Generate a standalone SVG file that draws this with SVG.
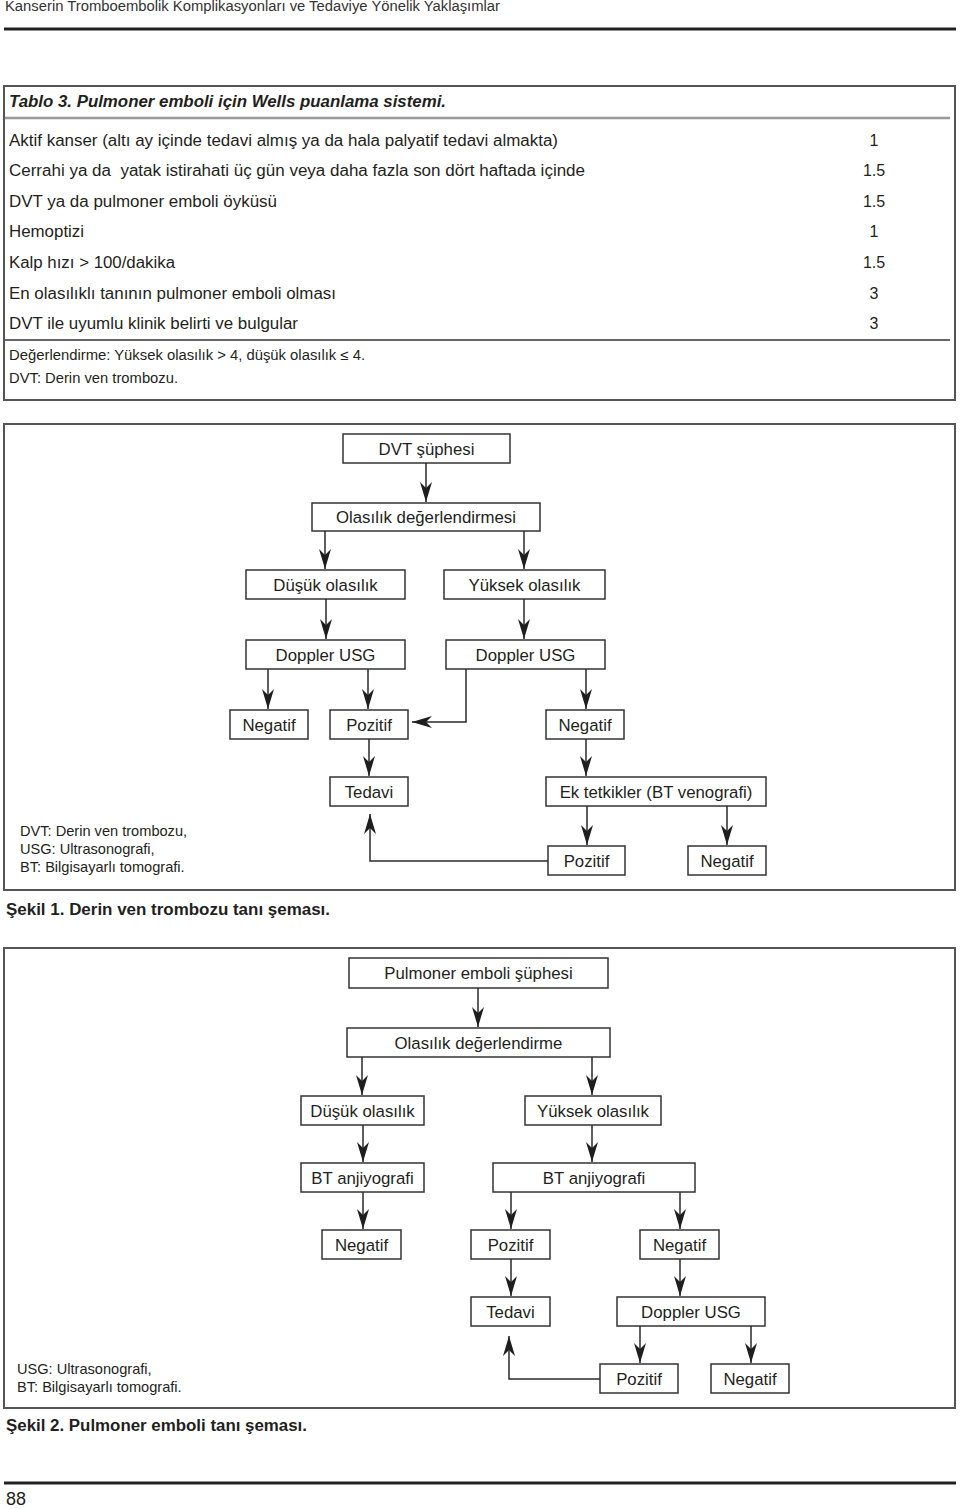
<svg xmlns="http://www.w3.org/2000/svg" width="960" height="1509" viewBox="0 0 960 1509">
<style>
text{font-family:"Liberation Sans",Arial,sans-serif;fill:#231f20}
.hdr{font-size:14px;fill:#333}
.ttl{font-size:16px;font-weight:bold;font-style:italic}
.row{font-size:16px}
.val{font-size:16px;text-anchor:middle}
.note{font-size:14px}
.cap{font-size:16px;font-weight:bold}
.leg{font-size:14.6px}
.nt{font-size:16.8px;text-anchor:middle}
.frame{fill:none;stroke:#555;stroke-width:2}
.box rect{fill:#fff;stroke:#333;stroke-width:1.5}
.con{fill:none;stroke:#2a2a2a;stroke-width:1.5}
</style>
<defs>
<marker id="ah" viewBox="0 0 20 12" refX="20" refY="6" markerWidth="20" markerHeight="12" markerUnits="userSpaceOnUse" orient="auto">
<path d="M0,0 L20,6 L0,12 L6,6 Z" fill="#1e1e1e"/>
</marker>
</defs>
<rect width="960" height="1509" fill="#fff"/>

<!-- page header -->
<text class="hdr" x="5" y="11" textLength="495" lengthAdjust="spacingAndGlyphs">Kanserin Tromboembolik Komplikasyonları ve Tedaviye Yönelik Yaklaşımlar</text>
<line x1="4" y1="29" x2="956" y2="29" stroke="#222" stroke-width="3"/>

<!-- table -->
<g id="table">
<rect class="frame" x="4" y="86" width="951" height="314"/>
<text class="ttl" x="9" y="107" textLength="437" lengthAdjust="spacingAndGlyphs">Tablo 3. Pulmoner emboli için Wells puanlama sistemi.</text>
<line x1="5" y1="118" x2="950" y2="118" stroke="#999" stroke-width="2.5"/>
<text class="row" x="9" y="146" textLength="549" lengthAdjust="spacingAndGlyphs">Aktif kanser (altı ay içinde tedavi almış ya da hala palyatif tedavi almakta)</text>
<text class="val" x="874" y="146">1</text>
<text class="row" x="9" y="176" textLength="576" lengthAdjust="spacingAndGlyphs" xml:space="preserve">Cerrahi ya da  yatak istirahati üç gün veya daha fazla son dört haftada içinde</text>
<text class="val" x="874" y="176">1.5</text>
<text class="row" x="9" y="207" textLength="268" lengthAdjust="spacingAndGlyphs">DVT ya da pulmoner emboli öyküsü</text>
<text class="val" x="874" y="207">1.5</text>
<text class="row" x="9" y="237" textLength="75" lengthAdjust="spacingAndGlyphs">Hemoptizi</text>
<text class="val" x="874" y="237">1</text>
<text class="row" x="9" y="268" textLength="166" lengthAdjust="spacingAndGlyphs">Kalp hızı &gt; 100/dakika</text>
<text class="val" x="874" y="268">1.5</text>
<text class="row" x="9" y="299" textLength="327" lengthAdjust="spacingAndGlyphs">En olasılıklı tanının pulmoner emboli olması</text>
<text class="val" x="874" y="299">3</text>
<text class="row" x="9" y="329" textLength="289" lengthAdjust="spacingAndGlyphs">DVT ile uyumlu klinik belirti ve bulgular</text>
<text class="val" x="874" y="329">3</text>
<line x1="5" y1="340" x2="950" y2="340" stroke="#333" stroke-width="1.5"/>
<text class="note" x="9" y="360" textLength="356" lengthAdjust="spacingAndGlyphs">Değerlendirme: Yüksek olasılık &gt; 4, düşük olasılık ≤ 4.</text>
<text class="note" x="9" y="383" textLength="169" lengthAdjust="spacingAndGlyphs">DVT: Derin ven trombozu.</text>
</g>

<!-- Figure 1 -->
<rect class="frame" x="4" y="424" width="951" height="466"/>
<g id="f1-n1" class="box"><rect x="343" y="434" width="167" height="29"/><text class="nt" x="426.5" y="454.5">DVT şüphesi</text></g>
<g id="f1-n2" class="box"><rect x="312" y="503" width="228" height="28"/><text class="nt" x="426" y="523">Olasılık değerlendirmesi</text></g>
<g id="f1-n3" class="box"><rect x="246" y="570" width="159" height="29"/><text class="nt" x="325.5" y="590.5">Düşük olasılık</text></g>
<g id="f1-n4" class="box"><rect x="444" y="570" width="161" height="29"/><text class="nt" x="524.5" y="590.5">Yüksek olasılık</text></g>
<g id="f1-n5" class="box"><rect x="246" y="640" width="159" height="29"/><text class="nt" x="325.5" y="660.5">Doppler USG</text></g>
<g id="f1-n6" class="box"><rect x="446" y="640" width="159" height="29"/><text class="nt" x="525.5" y="660.5">Doppler USG</text></g>
<g id="f1-n7" class="box"><rect x="230" y="710" width="78" height="29"/><text class="nt" x="269" y="730.5">Negatif</text></g>
<g id="f1-n8" class="box"><rect x="330" y="710" width="78" height="29"/><text class="nt" x="369" y="730.5">Pozitif</text></g>
<g id="f1-n9" class="box"><rect x="546" y="710" width="78" height="29"/><text class="nt" x="585" y="730.5">Negatif</text></g>
<g id="f1-n10" class="box"><rect x="330" y="777" width="78" height="29"/><text class="nt" x="369" y="797.5">Tedavi</text></g>
<g id="f1-n11" class="box"><rect x="546" y="777" width="220" height="29"/><text class="nt" x="656" y="797.5">Ek tetkikler (BT venografi)</text></g>
<g id="f1-n12" class="box"><rect x="548" y="846" width="77" height="29"/><text class="nt" x="586.5" y="866.5">Pozitif</text></g>
<g id="f1-n13" class="box"><rect x="688" y="846" width="78" height="29"/><text class="nt" x="727" y="866.5">Negatif</text></g>
<g id="f1-legend">
<text class="leg" x="20" y="836">DVT: Derin ven trombozu,</text>
<text class="leg" x="20" y="854">USG: Ultrasonografi,</text>
<text class="leg" x="20" y="872">BT: Bilgisayarlı tomografi.</text>
</g>
<g id="f1-connectors" class="con" marker-end="url(#ah)">
<path d="M426,463 V502"/>
<path d="M325,531 V569"/>
<path d="M524,531 V569"/>
<path d="M326,599 V639"/>
<path d="M524,599 V639"/>
<path d="M268,669 V709"/>
<path d="M368,669 V709"/>
<path d="M466,669 V722 H412"/>
<path d="M586,669 V709"/>
<path d="M369,739 V776"/>
<path d="M586,739 V776"/>
<path d="M587,806 V845"/>
<path d="M727,806 V845"/>
<path d="M548,861 H370 V814"/>
</g>
<text class="cap" x="6" y="915" textLength="324" lengthAdjust="spacingAndGlyphs">Şekil 1. Derin ven trombozu tanı şeması.</text>

<!-- Figure 2 -->
<rect class="frame" x="4" y="948" width="951" height="460"/>
<g id="f2-n1" class="box"><rect x="349" y="958" width="259" height="30"/><text class="nt" x="478.5" y="979">Pulmoner emboli şüphesi</text></g>
<g id="f2-n2" class="box"><rect x="347" y="1028" width="263" height="29"/><text class="nt" x="478.5" y="1048.5">Olasılık değerlendirme</text></g>
<g id="f2-n3" class="box"><rect x="301" y="1096" width="123" height="29"/><text class="nt" x="362.5" y="1116.5">Düşük olasılık</text></g>
<g id="f2-n4" class="box"><rect x="525" y="1096" width="136" height="29"/><text class="nt" x="593" y="1116.5">Yüksek olasılık</text></g>
<g id="f2-n5" class="box"><rect x="301" y="1163" width="123" height="29"/><text class="nt" x="362.5" y="1183.5">BT anjiyografi</text></g>
<g id="f2-n6" class="box"><rect x="493" y="1163" width="202" height="29"/><text class="nt" x="594" y="1183.5">BT anjiyografi</text></g>
<g id="f2-n7" class="box"><rect x="322" y="1230" width="79" height="29"/><text class="nt" x="361.5" y="1250.5">Negatif</text></g>
<g id="f2-n8" class="box"><rect x="471" y="1230" width="79" height="29"/><text class="nt" x="510.5" y="1250.5">Pozitif</text></g>
<g id="f2-n9" class="box"><rect x="640" y="1230" width="79" height="29"/><text class="nt" x="679.5" y="1250.5">Negatif</text></g>
<g id="f2-n10" class="box"><rect x="471" y="1297" width="79" height="29"/><text class="nt" x="510.5" y="1317.5">Tedavi</text></g>
<g id="f2-n11" class="box"><rect x="617" y="1297" width="148" height="29"/><text class="nt" x="691" y="1317.5">Doppler USG</text></g>
<g id="f2-n12" class="box"><rect x="600" y="1364" width="78" height="29"/><text class="nt" x="639" y="1384.5">Pozitif</text></g>
<g id="f2-n13" class="box"><rect x="711" y="1364" width="78" height="29"/><text class="nt" x="750" y="1384.5">Negatif</text></g>
<g id="f2-legend">
<text class="leg" x="17" y="1374">USG: Ultrasonografi,</text>
<text class="leg" x="17" y="1392">BT: Bilgisayarlı tomografi.</text>
</g>
<g id="f2-connectors" class="con" marker-end="url(#ah)">
<path d="M478,988 V1027"/>
<path d="M362,1057 V1095"/>
<path d="M592,1057 V1095"/>
<path d="M363,1125 V1162"/>
<path d="M592,1125 V1162"/>
<path d="M363,1192 V1229"/>
<path d="M511,1192 V1229"/>
<path d="M680,1192 V1229"/>
<path d="M511,1259 V1296"/>
<path d="M680,1259 V1296"/>
<path d="M640,1326 V1363"/>
<path d="M751,1326 V1363"/>
<path d="M600,1379 H509 V1336"/>
</g>
<text class="cap" x="6" y="1431" textLength="301" lengthAdjust="spacingAndGlyphs">Şekil 2. Pulmoner emboli tanı şeması.</text>

<!-- footer -->
<line x1="4" y1="1483" x2="956" y2="1483" stroke="#222" stroke-width="3"/>
<text x="6" y="1505" font-size="18" fill="#231f20" style="font-family:'Liberation Sans',Arial,sans-serif">88</text>
</svg>
